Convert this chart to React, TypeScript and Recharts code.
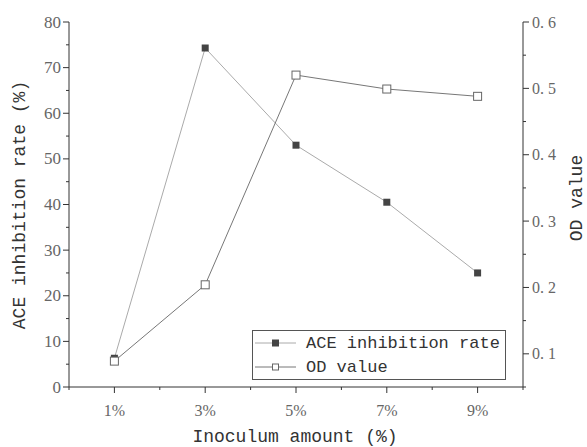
import React from 'react';
import { LineChart, Line, XAxis, YAxis } from 'recharts';

const categories = ['1%', '3%', '5%', '7%', '9%'];
const aceRate = [6.3, 74.3, 53.0, 40.5, 25.0];
const odValue = [0.089, 0.204, 0.52, 0.499, 0.488];

const xTicks = [0, 1, 2, 3, 4, 5, 6, 7, 8, 9, 10];
const leftTicks = [0, 5, 10, 15, 20, 25, 30, 35, 40, 45, 50, 55, 60, 65, 70, 75, 80];
const rightTicks = [0.05, 0.1, 0.15, 0.2, 0.25, 0.3, 0.35, 0.4, 0.45, 0.5, 0.55, 0.6];

const data = categories.map((c, i) => ({
  x: parseInt(c, 10),
  label: c,
  ace: aceRate[i],
  od: odValue[i],
}));

const AXIS = '#333';
const TICK_TEXT = '#666';
const SERIF = '"Liberation Serif", "DejaVu Serif", serif';
const MONO = '"Liberation Mono", "DejaVu Sans Mono", monospace';

const isMajorX = (v: number) => v % 2 === 1;

function BottomTick(props: any) {
  const { x, y, payload } = props;
  const v = payload.value;
  const major = isMajorX(v);
  const label = categories.find((c) => parseInt(c, 10) === v);
  return (
    <g>
      <line x1={x} x2={x} y1={y} y2={y + (major ? 6 : 3)} stroke={AXIS} />
      {major && label && (
        <text x={x} y={y + 23} textAnchor="middle" dominantBaseline="central" fontFamily={SERIF} fontSize={16} fill={TICK_TEXT}>
          {label}
        </text>
      )}
    </g>
  );
}

function TopTick(props: any) {
  const { x, y, payload } = props;
  const major = isMajorX(payload.value);
  if (payload.value === 0 || payload.value === 10) return null;
  return <line x1={x} x2={x} y1={y} y2={y + (major ? 6 : 3)} stroke={AXIS} />;
}

function LeftTick(props: any) {
  const { x, y, payload } = props;
  const v = payload.value;
  const major = v % 10 === 0;
  return (
    <g>
      <line x1={x} x2={x - (major ? 6 : 3)} y1={y} y2={y} stroke={AXIS} />
      {major && (
        <text x={x - 8} y={y} textAnchor="end" dominantBaseline="central" fontFamily={SERIF} fontSize={17} fill={TICK_TEXT}>
          {v}
        </text>
      )}
    </g>
  );
}

function RightTick(props: any) {
  const { x, y, payload } = props;
  const v = payload.value;
  const major = Math.round(v * 100) % 10 === 0;
  return (
    <g>
      <line x1={x} x2={x + (major ? 6 : 3)} y1={y} y2={y} stroke={AXIS} />
      {major && (
        <text x={x + 9} y={y} textAnchor="start" dominantBaseline="central" fontFamily={SERIF} fontSize={16} fill={TICK_TEXT}>
          {v.toFixed(1).replace('.', '. ')}
        </text>
      )}
    </g>
  );
}

function FilledSquare(props: any) {
  const { cx, cy } = props;
  if (cx == null || cy == null) return null;
  return <rect x={cx - 3.5} y={cy - 3.5} width={7} height={7} fill="#444" />;
}

function HollowSquare(props: any) {
  const { cx, cy } = props;
  if (cx == null || cy == null) return null;
  return <rect x={cx - 4} y={cy - 4} width={8} height={8} fill="#fff" stroke="#666" strokeWidth={1} />;
}

// legend drawn outside recharts so it does not shrink the plot area
function LegendBox() {
  const rows = [
    { name: 'ACE inhibition rate', stroke: '#aaa', hollow: false },
    { name: 'OD value', stroke: '#777', hollow: true },
  ];
  return (
    <svg width={254} height={50} style={{ position: 'absolute', left: 252, top: 330, display: 'block' }}>
      <rect x={0.5} y={0.5} width={253} height={49} fill="#fff" stroke="#555" />
      {rows.map((r, i) => {
        const cy = 13 + i * 24;
        return (
          <g key={r.name}>
            <line x1={3} x2={44} y1={cy} y2={cy} stroke={r.stroke} />
            {r.hollow ? (
              <rect x={20.5} y={cy - 3} width={6} height={6} fill="#fff" stroke="#666" />
            ) : (
              <rect x={20} y={cy - 3.5} width={7} height={7} fill="#444" />
            )}
            <text x={54} y={cy} dominantBaseline="central" fontFamily={MONO} fontSize={17} fill="#333">
              {r.name}
            </text>
          </g>
        );
      })}
    </svg>
  );
}

export default function App() {
  return (
    <div style={{ position: 'absolute', left: 0, top: 0, width: 587, height: 447, background: '#fff' }}>
      <LineChart width={587} height={447} data={data} margin={{ top: 22, right: 0, bottom: 0, left: 0 }}>
        <XAxis
          xAxisId="bottom"
          dataKey="x"
          type="number"
          domain={[0, 10]}
          ticks={xTicks}
          interval={0}
          height={60}
          tickSize={0}
          tickMargin={0}
          tickLine={false}
          axisLine={{ stroke: AXIS }}
          tick={<BottomTick />}
          label={{
            content: () => (
              <text x={295} y={437} textAnchor="middle" dominantBaseline="central" fontFamily={MONO} fontSize={18} fill="#333">
                Inoculum amount (%)
              </text>
            ),
          }}
        />
        <XAxis
          xAxisId="top"
          orientation="top"
          dataKey="x"
          type="number"
          domain={[0, 10]}
          ticks={xTicks}
          interval={0}
          height={0}
          tickSize={0}
          tickMargin={0}
          tickLine={false}
          axisLine={{ stroke: AXIS }}
          tick={<TopTick />}
        />
        <YAxis
          yAxisId="left"
          domain={[0, 80]}
          ticks={leftTicks}
          interval={0}
          width={69}
          tickSize={0}
          tickMargin={0}
          tickLine={false}
          axisLine={{ stroke: AXIS }}
          tick={<LeftTick />}
          label={{
            content: () => (
              <text
                x={20}
                y={205}
                transform="rotate(-90 20 205)"
                textAnchor="middle"
                dominantBaseline="central"
                fontFamily={MONO}
                fontSize={18}
                fill="#333"
              >
                ACE inhibition rate (%)
              </text>
            ),
          }}
        />
        <YAxis
          yAxisId="right"
          orientation="right"
          domain={[0.05, 0.6]}
          ticks={rightTicks}
          interval={0}
          width={64}
          tickSize={0}
          tickMargin={0}
          tickLine={false}
          axisLine={{ stroke: AXIS }}
          tick={<RightTick />}
          label={{
            content: () => (
              <text
                x={577}
                y={198}
                transform="rotate(-90 577 198)"
                textAnchor="middle"
                dominantBaseline="central"
                fontFamily={MONO}
                fontSize={18}
                fill="#333"
              >
                OD value
              </text>
            ),
          }}
        />
        <Line
          xAxisId="bottom"
          yAxisId="left"
          dataKey="ace"
          name="ACE inhibition rate"
          stroke="#aaa"
          strokeWidth={1}
          dot={<FilledSquare />}
          activeDot={false}
          isAnimationActive={false}
        />
        <Line
          xAxisId="bottom"
          yAxisId="right"
          dataKey="od"
          name="OD value"
          stroke="#777"
          strokeWidth={1}
          dot={<HollowSquare />}
          activeDot={false}
          isAnimationActive={false}
        />
      </LineChart>
      <LegendBox />
    </div>
  );
}
